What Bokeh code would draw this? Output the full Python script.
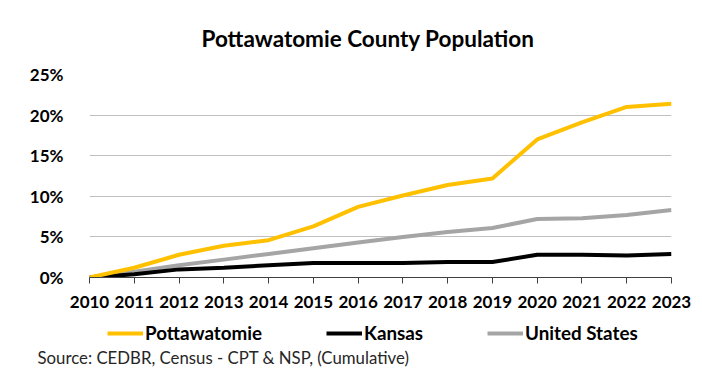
from bokeh.plotting import figure
from bokeh.layouts import column
from bokeh.models import (FixedTicker, NumeralTickFormatter, Legend, LegendItem, Title)
from bokeh.embed import file_html
from bokeh.resources import INLINE

years = list(range(2010, 2024))
pottawatomie = [0.0, 1.2, 2.8, 3.9, 4.6, 6.3, 8.7, 10.1, 11.4, 12.2, 17.0, 19.1, 21.0, 21.4]
kansas = [0.0, 0.4, 1.0, 1.2, 1.5, 1.8, 1.8, 1.8, 1.9, 1.9, 2.8, 2.8, 2.7, 2.9]
united_states = [0.0, 0.7, 1.5, 2.2, 2.9, 3.6, 4.3, 5.0, 5.6, 6.1, 7.2, 7.3, 7.7, 8.3]
y_ticks = [0, 0.05, 0.10, 0.15, 0.20, 0.25]
series_names = ["Pottawatomie", "Kansas", "United States"]
series_colors = ["#FFC000", "#000000", "#A5A5A5"]
source_text = "Source: CEDBR, Census - CPT & NSP, (Cumulative)"

pct = lambda s: [v / 100 for v in s]

FONT = "Lato"

p = figure(width=700, height=318, x_range=(2010, 2023), y_range=(0, 0.25),
           output_backend="svg", toolbar_location=None,
           min_border_left=89, min_border_right=29, min_border_top=73, min_border_bottom=41)
p.outline_line_color = None
p.background_fill_color = "white"
p.border_fill_color = "white"

# title
p.title.text = "Pottawatomie County Population"
p.title.align = "left"
p.title.offset = 112
p.title.text_font = FONT
p.title.text_font_size = "22.5px"
p.title.text_font_style = "bold"
p.title.text_color = "black"
p.title.standoff = 45

# lines (draw order: US, Kansas, Pottawatomie on top)
data = [pct(pottawatomie), pct(kansas), pct(united_states)]
for vals, col in reversed(list(zip(data, series_colors))):
    p.line(years, vals, line_color=col, line_width=4)

# axes
p.xaxis.ticker = FixedTicker(ticks=years)
p.xaxis.major_label_text_font = FONT
p.xaxis.major_label_text_font_size = "17px"
p.xaxis.major_label_text_font_style = "bold"
p.xaxis.major_label_text_color = "black"
p.xaxis.axis_line_color = "#404040"
p.xaxis.major_tick_line_color = "#404040"
p.xaxis.major_tick_in = 0
p.xaxis.major_tick_out = 6
p.xaxis.minor_tick_line_color = None
p.xaxis.major_label_standoff = 12

p.yaxis.ticker = FixedTicker(ticks=y_ticks)
p.yaxis.formatter = NumeralTickFormatter(format="0%")
p.yaxis.major_label_text_font = FONT
p.yaxis.major_label_text_font_size = "17px"
p.yaxis.major_label_text_font_style = "bold"
p.yaxis.major_label_text_color = "black"
p.yaxis.axis_line_color = None
p.yaxis.major_tick_line_color = None
p.yaxis.minor_tick_line_color = None
p.yaxis.major_label_standoff = 20

p.xgrid.grid_line_color = None
p.ygrid.grid_line_color = "#C0C0C0"
p.ygrid.grid_line_width = 1

# legend strip (separate figure below the chart; its lines lie outside its view)
q = figure(width=700, height=59, x_range=(0, 1), y_range=(0, 1),
           x_axis_type=None, y_axis_type=None,
           output_backend="svg", toolbar_location=None,
           min_border_left=89, min_border_right=29, min_border_top=0, min_border_bottom=33)
q.outline_line_color = None
q.grid.grid_line_color = None
q.background_fill_color = "white"
q.border_fill_color = "white"

items = []
for name, vals, col in zip(series_names, data, series_colors):
    r = q.line(years, vals, line_color=col, line_width=4)
    items.append(LegendItem(label=name, renderers=[r]))

legend = Legend(items=items, orientation="horizontal", location=(18, 0))
legend.padding = 0
legend.margin = 0
legend.spacing = 64
legend.glyph_width = 36
legend.glyph_height = 20
legend.label_standoff = 2
legend.label_height = 20
legend.label_text_font = FONT
legend.label_text_font_size = "18.8px"
legend.label_text_font_style = "bold"
legend.label_text_color = "black"
legend.border_line_color = None
legend.background_fill_alpha = 0
q.add_layout(legend, "center")

src = Title(text=source_text, align="left", offset=-52, standoff=0,
            text_font=FONT, text_font_size="16.8px", text_font_style="normal",
            text_color="#262626")
q.add_layout(src, "below")

layout = column(p, q, spacing=0)
open("out.html", "w").write(file_html(layout, INLINE))
